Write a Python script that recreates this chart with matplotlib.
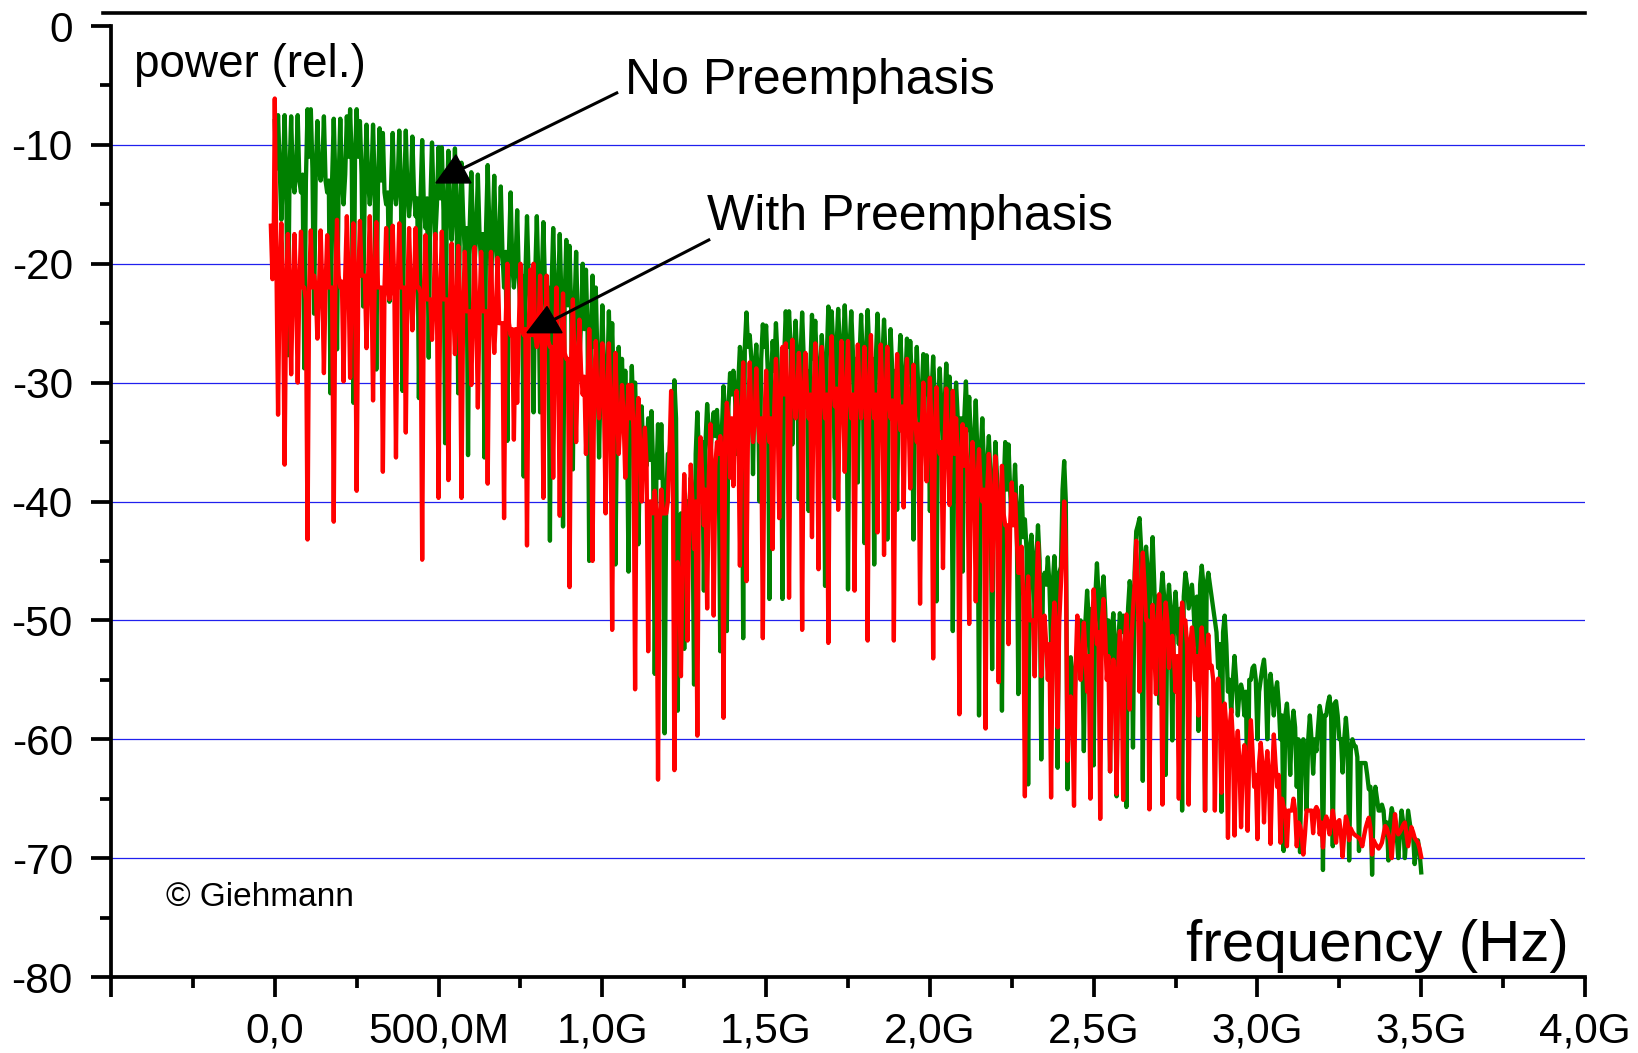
import numpy as np
import matplotlib
matplotlib.use('Agg')
import matplotlib.pyplot as plt
from matplotlib.lines import Line2D
from matplotlib.patches import Polygon

plt.rcParams['font.family'] = ['Liberation Sans', 'DejaVu Sans']

W, H = 1638, 1053

# samples every 10 MHz from 0 to 3.5 GHz, plus the values halfway between them
freq_step_ghz = 0.01

green_power = [
    -8, -7.5, -16.3, -7.5, -27.7, -7.6, -14, -7.5, -14, -28.8,
    -7, -7, -24.2, -8, -13, -7.6, -14, -30.9, -7.8, -27.2,
    -7.8, -15, -7.6, -7, -31.7, -7, -8, -23.6, -8.3, -15,
    -8.3, -28.9, -8.6, -9, -15, -23.2, -9, -15, -8.8, -30.7,
    -8.8, -16, -9.3, -16, -31.3, -9.6, -17, -27.9, -9.8, -18,
    -10.2, -10.2, -35.1, -10.5, -18, -10.3, -30.9, -11.5, -19, -36.1,
    -12.3, -20, -12.5, -20, -36.3, -11.7, -22, -12.6, -21, -13.5,
    -22, -34.9, -14, -22, -15.5, -24, -37.9, -16, -24, -32.5,
    -16, -32.5, -16.5, -25, -43.3, -17, -26, -17.5, -42.1, -18,
    -18.5, -37.3, -19, -28, -20, -20.5, -45, -21, -22, -36.3,
    -23.5, -37.3, -24, -25, -45.3, -27, -28, -29, -45.9, -28.6,
    -30, -43.6, -32, -36, -33, -32.4, -54.5, -33.5, -33.5, -59.5,
    -36, -34, -29.8, -57.6, -41, -52.4, -40, -38, -55.4, -32.5,
    -38, -47.5, -31.8, -36, -32.5, -32.3, -52.6, -30.3, -50.9, -29.2,
    -29, -36, -27, -51.5, -24.1, -26, -37.7, -26.8, -40, -25.1,
    -25.2, -48.2, -26.5, -25, -34, -48.2, -24, -24, -35.2, -24.8,
    -39.8, -24.1, -32, -40.8, -24.3, -24.8, -33, -26, -47.1, -23.6,
    -24, -39.7, -23.8, -32, -23.5, -47.4, -24, -32, -38.4, -24.3,
    -43.5, -23.9, -33, -45.3, -24.2, -31, -24.7, -43.2, -25.5, -33,
    -40.7, -26, -33, -26.3, -26.5, -43.2, -27, -35, -27.6, -27.7,
    -40.8, -27.8, -48.4, -28.8, -36, -28.4, -29.5, -50.9, -30, -38,
    -45.9, -29.9, -31.2, -40, -31.5, -58, -33, -41, -34.5, -54.1,
    -35, -42, -57.6, -35, -35.2, -42, -36.9, -56.2, -38.7, -41.5,
    -63.8, -42.8, -50, -42, -61.7, -46, -44.7, -52, -44.6, -62.4,
    -45.5, -36.6, -64.2, -53.1, -58, -52, -50, -61, -47.5, -55,
    -62.2, -45.2, -52, -46.3, -53, -62.7, -49.4, -64.8, -49.4, -49.6,
    -65.7, -46.7, -60.7, -42.5, -41.4, -63.5, -43.8, -50, -43, -52,
    -57, -46, -63, -47, -60.1, -47.6, -52, -66, -46, -49,
    -47, -52, -59.3, -45.4, -66, -46, -48, -50, -54, -66.1,
    -49.6, -56, -57.8, -53, -58, -55.4, -58, -67.6, -55, -53.8,
    -60, -55, -53.3, -60, -54.5, -58, -55.2, -60, -69.4, -57,
    -63, -57.6, -64, -69.5, -60, -66, -58, -62.9, -61, -57.2,
    -71, -58, -56.4, -69, -56.8, -60, -62.8, -58.2, -70.2, -60,
    -60.6, -69.4, -62, -62, -64.2, -71.4, -64, -66, -65.5, -68,
    -70.2, -65.8, -68, -70, -66, -70, -66, -68, -70.5, -68.5,
    -71.2,
]

green_mid = [
    -12, -12, -12.5, -13, -12.5, -13, -12, -13, -12.5, -13,
    -11, -12, -12.5, -12, -12, -13, -13, -13, -13, -13,
    -13, -12.5, -11, -11.5, -11, -11, -12.5, -13, -13, -13,
    -13.5, -13.5, -13, -14, -14, -13.5, -14, -13.5, -13.5, -14,
    -14, -14, -14, -14.5, -14.5, -15, -14.5, -15, -15, -15,
    -14.5, -15.5, -15.5, -15.5, -15.5, -15.5, -16, -16, -17, -17,
    -17, -17.5, -17.5, -17.5, -17, -17, -17.5, -18, -18, -19,
    -19, -19, -20, -20, -21, -21, -21, -21, -21, -21,
    -21.5, -21.5, -22, -22, -22, -22.5, -22.5, -23, -23, -23.5,
    -24, -24, -25, -25, -25.5, -26, -26, -27, -28, -29,
    -29, -30, -30, -31, -32, -33, -33, -33, -33, -33,
    -35, -36, -36, -37, -36.5, -37, -38, -38, -39, -40,
    -36, -33, -33, -42, -42, -42, -41, -40, -36, -36,
    -35, -35, -34, -34, -34.5, -35, -34, -33, -32, -31,
    -31, -30, -28, -27, -27, -28, -29, -30, -28, -27,
    -29, -30, -29, -28, -30, -28, -27, -27, -28, -28,
    -28, -28, -29, -29, -28, -29, -29, -29, -28, -27,
    -27, -27, -27, -27, -27, -27, -27.5, -28, -28, -28,
    -27.5, -27.5, -28, -28, -28, -28, -28, -29, -29, -29,
    -29, -29.5, -30, -30, -30, -30.5, -31, -31, -31, -31,
    -31, -31.5, -32, -32, -32, -32, -33, -33, -33, -33,
    -33, -34, -35, -35, -36, -36, -37, -37, -38, -39,
    -38, -39, -39, -39, -39, -40, -41, -41, -43, -44,
    -44, -45, -45, -45, -47, -47, -47, -47, -47, -46,
    -39, -40, -55, -55, -54, -54, -52, -50, -50, -49,
    -48, -48, -48, -49, -50, -51, -52, -52, -51, -50,
    -49, -48, -46, -42, -44, -45, -46, -46, -47, -48,
    -48, -48, -49, -49, -50, -50, -49, -48, -47, -48,
    -49, -48, -47, -47, -47, -47, -49, -51, -52, -51,
    -52, -55, -55, -55, -56, -56, -56, -55, -54, -55,
    -56, -54, -55, -56, -56, -56, -57, -58, -58, -59,
    -59, -59, -60, -61, -61, -60, -60, -60, -59, -58,
    -58, -57, -58, -57, -58, -60, -60, -60, -61, -60.5,
    -61.5, -62, -62, -63, -64, -65, -65, -66, -66, -67,
    -67, -66.5, -68, -68, -67, -68, -67, -68, -69, -69.5,
]

red_power = [
    -6.1, -32.7, -16.6, -36.9, -17.5, -29.3, -17.5, -30, -17.3, -22,
    -43.2, -17.2, -21, -26.3, -17.2, -29.2, -17.6, -22, -41.7, -16.3,
    -22, -29.9, -16, -29.6, -16.6, -39.1, -16.4, -21, -27.1, -16,
    -31.5, -16.5, -22, -37.5, -17, -23, -16.8, -36.3, -16.6, -22,
    -34.2, -17, -25.6, -17, -22, -44.9, -17.6, -23, -26.4, -17.5,
    -39.7, -17.3, -23, -38.2, -18.3, -27.6, -18.5, -39.7, -19, -24,
    -30.2, -18.6, -32.1, -19, -24, -38.5, -19, -27.5, -19.5, -25,
    -41.4, -20, -26, -34.8, -31.7, -20, -26, -43.7, -20.5, -20,
    -27, -21, -39.7, -21, -27, -38, -22, -41.2, -22.5, -28,
    -47.2, -23, -35, -24.7, -31, -36, -25.5, -45, -26.5, -33,
    -26.7, -41, -26.7, -50.8, -27.5, -36, -30.2, -38, -30.2, -30.2,
    -55.8, -31.3, -40, -33.8, -52.6, -40, -39.1, -63.4, -39, -41,
    -40, -30.7, -62.6, -45.1, -54.7, -37.7, -51.7, -36.9, -44, -59.7,
    -34.6, -42, -49, -33.5, -49.6, -35, -34.5, -58.2, -31.7, -38,
    -38.7, -30.7, -45.4, -28.3, -46.7, -28.3, -35, -28.8, -35, -51.5,
    -29, -35, -44, -28, -41.4, -27, -26.7, -48.1, -26.4, -33,
    -27.5, -50.8, -27.5, -33, -43, -26.7, -45.7, -27, -33, -51.9,
    -26.1, -32, -40.7, -26.5, -37.5, -26.5, -33, -47.5, -26.8, -33,
    -27, -51.7, -26, -33, -42.6, -26.8, -44.5, -27, -33, -51.7,
    -27.6, -34, -40.5, -28, -38.9, -28.5, -35, -48.6, -30, -38.3,
    -29.6, -53.2, -30.4, -36, -45.6, -30.5, -40.3, -30.7, -33, -57.9,
    -33.5, -33.9, -50.3, -35, -48.4, -35.6, -40, -59.1, -36, -47.5,
    -36.2, -55.2, -37, -42, -52, -38.4, -39.4, -46, -43.8, -64.8,
    -46.3, -50, -54.7, -43.5, -54.7, -49.6, -55, -64.9, -48.5, -59,
    -47, -40, -61.8, -56.4, -65.6, -49.6, -55, -50.2, -56, -65,
    -47.4, -52, -66.7, -48.2, -55, -62.7, -53.3, -64.6, -50.9, -65.1,
    -49.5, -57.5, -49.1, -43.3, -56, -44.3, -50, -65.9, -48.7, -56.2,
    -47.8, -65.5, -48.5, -54, -51.3, -56, -65, -48.5, -50, -65.5,
    -50.6, -55, -58, -50.6, -66, -51.2, -53.8, -66, -54.9, -64.5,
    -57, -68.3, -57.5, -68.1, -59.3, -67.4, -60.5, -67.7, -58.4, -64,
    -68.4, -60.3, -67, -61, -68.8, -59.6, -64, -68.7, -65.7, -69,
    -66, -65, -69, -67.3, -69.7, -66, -66, -67.9, -65.7, -68,
    -69.1, -66.5, -68, -66, -68.7, -66.8, -69.9, -66.5, -68.5, -67.8,
    -68.1, -68.3, -69, -67.5, -66.6, -69.7, -68.8, -69.2, -68.7, -67.3,
    -68, -70, -66.3, -68, -67.5, -67, -69, -67.4, -68.3, -68.7,
    -69.9,
]

red_mid = [
    -20, -21, -22, -22, -22, -22, -22, -22, -22, -23,
    -22, -22, -22, -22, -22, -22, -22, -22, -21.5, -21,
    -21.5, -21, -21, -21.5, -21.5, -21.5, -21, -21, -21, -21,
    -21.5, -22, -22, -22, -22, -22, -22, -22, -22, -22,
    -22, -22, -22, -22, -22.5, -22.5, -23, -23, -23, -23,
    -23, -23, -23, -23, -23.5, -23.5, -24, -24, -24, -24,
    -24, -24, -24, -24, -24, -24, -24.5, -24.5, -25, -25,
    -25, -25, -25.5, -25.5, -25.5, -25.5, -25.5, -26, -26, -26,
    -26, -26, -26.5, -26.5, -27, -27, -27, -27.5, -27.5, -28,
    -28, -28, -28.5, -29, -29.5, -30, -30, -30.5, -31, -31,
    -31, -31.5, -32, -32, -32.5, -33, -33, -33, -33, -34,
    -34, -35, -36, -37, -40, -41, -41, -42, -41, -41,
    -36, -36, -47, -47, -44, -42, -42, -40, -40, -38,
    -38, -39, -38, -38, -37, -36, -36, -35, -33, -33,
    -33, -33, -33, -33, -33, -33, -33, -33, -33, -33,
    -33, -33, -32, -32, -31, -31, -31, -31, -31, -31,
    -31, -31, -31, -31, -31, -31, -31, -31, -31, -30.5,
    -30.5, -30.5, -31, -31, -31, -31, -31, -31, -31, -31,
    -31, -30.5, -31, -31, -31, -31, -31, -31.5, -31.5, -32,
    -32, -32, -32, -32.5, -33, -33, -33.5, -34, -34, -34,
    -34, -34.5, -35, -35, -35, -35, -35, -36, -36, -37,
    -37, -38, -38, -38, -38.5, -39, -39, -39, -39.5, -40,
    -40, -40.5, -41, -42, -42, -42, -43, -46, -48, -49,
    -50, -50, -48, -47, -51, -52, -52, -51, -51, -50,
    -44, -44, -58, -58, -54, -53, -53, -53, -53, -51,
    -50, -51, -50, -51, -53, -55, -55, -54, -53, -52,
    -52, -52, -47, -48, -48, -47, -50, -52, -52, -50,
    -51, -51, -50, -52, -53, -53, -52, -50, -52, -52,
    -52, -53, -53, -53, -53, -54, -55, -56, -57, -58,
    -59, -59, -60, -61, -62, -62, -62, -61, -61, -63,
    -62, -62, -63, -63, -63, -62, -63, -65, -66, -66,
    -66, -66, -67, -68, -68, -66, -66, -66, -66, -67,
    -67, -67, -67, -67, -67, -68, -68, -67, -67.5, -68,
    -68.2, -68.5, -68.2, -67, -67.5, -68.5, -69, -69, -68, -67.5,
    -68.5, -68, -67.5, -67.8, -67.2, -68, -68.2, -67.8, -68.5, -69.2,
]

# red trace starts just left of zero
red_lead_freq = [-0.012, -0.007, -0.003]
red_lead_power = [-16.8, -21.3, -17.0]

y_ticks = [0, -10, -20, -30, -40, -50, -60, -70, -80]
y_tick_labels = ['0', '-10', '-20', '-30', '-40', '-50', '-60', '-70', '-80']
grid_levels = [-10, -20, -30, -40, -50, -60, -70]
x_ticks = [-0.5, 0, 0.5, 1, 1.5, 2, 2.5, 3, 3.5, 4]
x_tick_labels = ['', '0,0', '500,0M', '1,0G', '1,5G', '2,0G', '2,5G', '3,0G', '3,5G', '4,0G']


def weave(samples, mids):
    trace = np.empty(len(samples) + len(mids))
    trace[::2] = samples
    trace[1::2] = mids
    return trace


green_all = weave(green_power, green_mid)
red_trace = weave(red_power, red_mid)
green_freq = np.arange(len(green_all)) * freq_step_ghz / 2
red_freq = np.concatenate([red_lead_freq, np.arange(len(red_trace)) * freq_step_ghz / 2])
red_all = np.concatenate([red_lead_power, red_trace])

fig = plt.figure(figsize=(W / 100, H / 100), dpi=100)
ax = fig.add_axes([111 / W, 1 - 977 / H, (1585 - 111) / W, (977 - 26) / H])
ax.set_xlim(-0.5, 4.0)
ax.set_ylim(-80, 0)

for level in grid_levels:
    ax.axhline(level, color='#2020ee', lw=0.9, zorder=1)

ax.plot(green_freq, green_all, color='#008000', lw=3.1, zorder=2, solid_joinstyle='round')
ax.plot(red_freq, red_all, color='#ff0000', lw=3.1, zorder=3, solid_joinstyle='round')

for side in ['top', 'right']:
    ax.spines[side].set_visible(False)
for side in ['left', 'bottom']:
    ax.spines[side].set_linewidth(2.7)

ax.set_xticks(x_ticks)
ax.set_xticklabels(x_tick_labels)
ax.set_yticks(y_ticks)
ax.set_yticklabels(y_tick_labels)
ax.set_xticks([-0.25, 0.25, 0.75, 1.25, 1.75, 2.25, 2.75, 3.25, 3.75], minor=True)
ax.set_yticks(np.arange(-75, 0, 10), minor=True)
ax.tick_params(which='major', length=14.5, width=2.7, labelsize=30.5)
ax.tick_params(which='minor', length=8, width=2.7)
ax.tick_params(axis='x', which='major', pad=10.5)
ax.tick_params(axis='y', which='major', pad=13)

# arrows to the two traces
ax.plot([1.044, 0.578], [-5.63, -11.93], color='black', lw=2.2, zorder=5)
ax.plot([1.325, 0.852], [-18.0, -24.7], color='black', lw=2.2, zorder=5)
ax.add_patch(Polygon([(0.492, -13.2), (0.599, -13.2), (0.553, -10.84)], color='black', zorder=6))
ax.add_patch(Polygon([(0.770, -25.8), (0.877, -25.8), (0.831, -23.6)], color='black', zorder=6))

fig.add_artist(Line2D([103 / W, 1585 / W], [1 - 13 / H, 1 - 13 / H], color='black', lw=2.6))


def label(x, y, text, size):
    fig.text(x / W, 1 - y / H, text, fontsize=size, va='baseline', ha='left', color='black')


label(134, 77, 'power (rel.)', 33)
label(625, 94, 'No Preemphasis', 36)
label(707, 230, 'With Preemphasis', 36)
label(1186, 961, 'frequency (Hz)', 42)
label(166, 906, '© Giehmann', 24)

fig.savefig('out.png', dpi=100)
